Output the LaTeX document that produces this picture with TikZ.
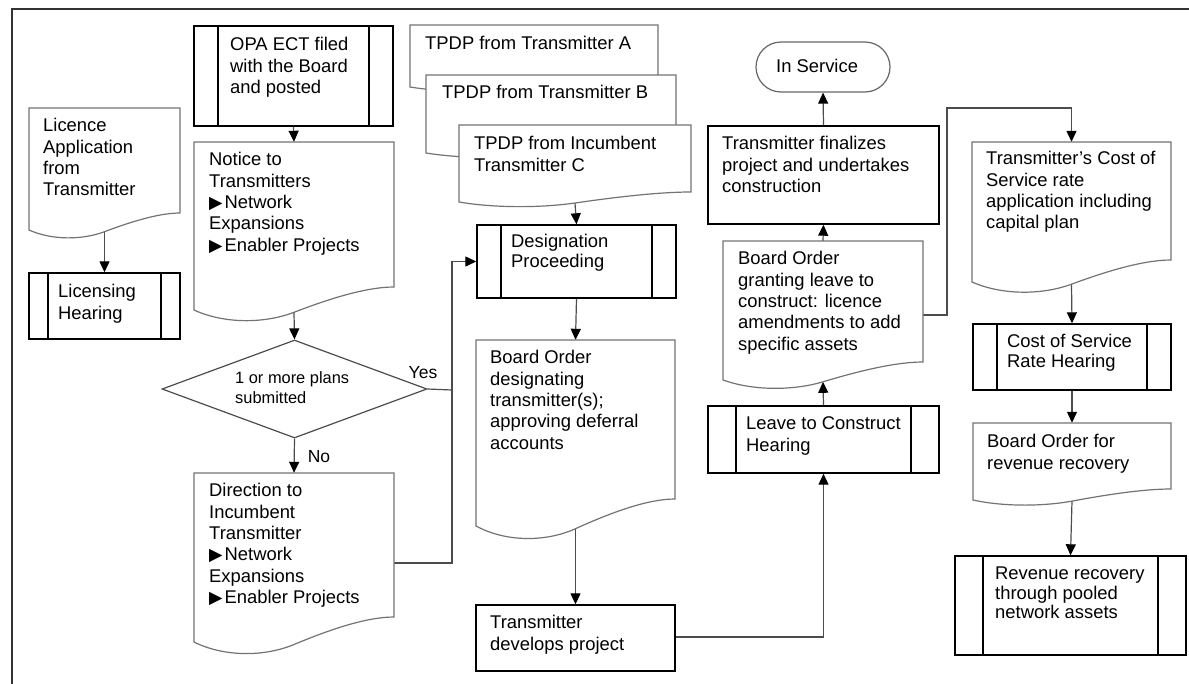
\documentclass[tikz,border=0pt]{standalone}
\usepackage{fontspec}
\setmainfont{Liberation Sans}
\newfontfamily\djv{DejaVu Sans}
\newcommand\tri{{\djv\fontsize{17.5}{17.5}\selectfont ▶}\hspace{2pt}}
\usetikzlibrary{arrows.meta,shapes.geometric}
\pgfdeclarelayer{background}
\pgfsetlayers{background,main}
\tikzset{
  txt/.style={font=\fontsize{18.4}{21.4}\selectfont, anchor=north west, inner sep=0, align=left},
  tight/.style={font=\fontsize{18.4}{19.6}\selectfont},
  lbl/.style={font=\fontsize{17.5}{20}\selectfont, inner sep=0},
  pbox/.style={draw=black, line width=1.4pt, fill=white, inner sep=0,
    path picture={\draw[black, line width=1.4pt] ([xshift=#1]path picture bounding box.north west) -- ([xshift=#1]path picture bounding box.south west);
                  \draw[black, line width=1.4pt] ([xshift=-#1]path picture bounding box.north east) -- ([xshift=-#1]path picture bounding box.south east);}},
  pbox/.default=25,
  rbox/.style={draw=black, line width=1.4pt, fill=white, inner sep=0},
  docline/.style={draw=black!55, line width=1.2pt, fill=white},
  conn/.style={draw=black!70, line width=1.2pt, -{Triangle[length=11pt,width=10pt,color=black]}},
  line/.style={draw=black!70, line width=1.2pt},
}
% document shape: #1 name, #2 x0, #3 top, #4 x1, #5 yR (right bottom), #6 yL (left bottom)
\newcommand\docshape[6]{%
  \pgfmathsetmacro\dw{#4-#2}%
  \pgfmathsetmacro\da{#6-#5}%
  \draw[docline] (#2,#3) -- (#4,#3) -- (#4,#5)
     .. controls ({#2+0.85*\dw},#5) and ({#2+0.65*\dw},{#6-0.4*\da}) .. ({#2+0.5*\dw},{#6+0.1*\da})
     .. controls ({#2+0.35*\dw},{#6+0.6*\da}) and ({#2+0.15*\dw},{#6+0.6*\da}) .. (#2,#6) -- cycle;
  \node[inner sep=0, minimum width=\dw, minimum height={#6-#3}] (#1) at ({(#2+#4)/2},{(#3+#6)/2}) {};
  \coordinate (#1-bc) at ({#2+0.5*\dw},{#6+0.1*\da});
}
\begin{document}
\begin{tikzpicture}[x=1pt,y=-1pt]
\useasboundingbox (0,0) rectangle (1189,683);
% frame
\draw[black!80, line width=2.2pt] (12,700) -- (12,9) -- (1200,9);

% left column
\docshape{lic}{29}{108}{180}{213}{230}
\node[txt] (lic-t) at (43,116.5) {\strut Licence\\Application\\from\\Transmitter};
\node[pbox=19, minimum width=151, minimum height=66] (lich) at (104.5,306) {};
\node[txt] (lich-t) at (58,282.5) {\strut Licensing\\Hearing};

% OPA column
\node[pbox=24, minimum width=199, minimum height=100] (opa) at (293.5,76) {};
\node[txt] (opa-t) at (230,35.5) {\strut OPA ECT filed\\with the Board\\and posted};
\docshape{notice}{194}{142}{394}{287}{310}
\node[txt] (notice-t) at (209,150.5) {\strut Notice to\\Transmitters\\\tri Network\\Expansions\\\tri Enabler Projects};
\node[diamond, draw=black!70, line width=1.2pt, fill=white, inner sep=0, minimum width=265, minimum height=98] (dia) at (294.5,389) {};
\node[txt, font=\fontsize{16.4}{20}\selectfont] (dia-t) at (235,369) {\strut 1 or more plans\\submitted};
\node[lbl] (yes) at (423,373) {Yes};
\node[lbl] (no) at (319,457) {No};
\docshape{dir}{194}{473}{394}{617}{642}
\node[txt] (dir-t) at (209,481.5) {\strut Direction to\\Incumbent\\Transmitter\\\tri Network\\Expansions\\\tri Enabler Projects};
\coordinate (jn) at (452,390);

% TPDP column
\docshape{tA}{410}{25}{658}{77}{87}
\node[txt] (tA-t) at (425,34.5) {\strut TPDP from Transmitter A};
\docshape{tB}{426}{75}{676}{143}{153}
\node[txt] (tB-t) at (442,83.5) {\strut TPDP from Transmitter B};
\docshape{tC}{459}{125}{691}{192}{202}
\node[txt] (tC-t) at (474,134.5) {\strut TPDP from Incumbent\\Transmitter C};
\node[pbox=24, minimum width=199, minimum height=73] (desig) at (576.5,261.5) {};
\node[txt, tight] (desig-t) at (511,233.5) {\strut Designation\\Proceeding};
\docshape{bodes}{476}{340}{675}{499}{526}
\node[txt] (bodes-t) at (490,348.5) {\strut Board Order\\designating\\transmitter(s);\\approving deferral\\accounts};
\node[rbox, minimum width=199, minimum height=66] (dev) at (575.5,638) {};
\node[txt] (dev-t) at (490,613.5) {\strut Transmitter\\develops project};

% construction column
\node[draw=black!60, line width=1.2pt, fill=white, rounded corners=25, minimum width=134, minimum height=50, inner sep=0] (insrv) at (823,67) {};
\node[lbl, font=\fontsize{18.4}{21.4}\selectfont, anchor=west] (insrv-t) at (776,66) {In Service};
\node[rbox, minimum width=231, minimum height=98] (final) at (823.5,175) {};
\node[txt] (final-t) at (722,134.5) {\strut Transmitter finalizes\\project and undertakes\\construction};
\docshape{bogrant}{723}{241}{923}{362}{380}
\node[txt] (bogrant-t) at (738,249.5) {\strut Board Order\\granting leave to\\construct: licence\\amendments to add\\specific assets};
\node[pbox=28, minimum width=231, minimum height=67] (leave) at (823.5,439.5) {};
\node[txt] (leave-t) at (746,414.5) {\strut Leave to Construct\\Hearing};
\coordinate (c1) at (947,108);

% rates column
\docshape{cost}{972}{142}{1171}{260}{282}
\node[txt] (cost-t) at (986,149.5) {\strut Transmitter's Cost of\\Service rate\\application including\\capital plan};
\node[pbox=24, minimum width=198, minimum height=66] (cosh) at (1072,357) {};
\node[txt, tight] (cosh-t) at (1007,333.5) {\strut Cost of Service\\Rate Hearing};
\docshape{borev}{973}{423}{1171}{489}{500}
\node[txt] (borev-t) at (987,432.5) {\strut Board Order for\\revenue recovery};
\node[pbox=28, minimum width=231, minimum height=99] (rev) at (1070.5,605.5) {};
\node[txt, tight] (rev-t) at (995,565.5) {\strut Revenue recovery\\through pooled\\network assets};

% connectors
\begin{pgfonlayer}{background}
\draw[conn] (lic-bc) -- (lich.north);
\draw[conn] (opa.south) -- (notice.north);
\draw[conn] (notice-bc) -- (dia.north);
\draw[conn] (dia.south) -- (dir.north);
\draw[line] (dia.east) -- (jn);
\draw[conn] ([yshift=-5.5]dir.east) -| (jn) |- (desig.west);
\draw[conn] (tC-bc) -- (desig.north);
\draw[conn] (desig.south) -- (bodes.north);
\draw[conn] (bodes-bc) -- (dev.north);
\draw[conn] ([yshift=1]dev.east) -| (leave.south);
\draw[conn] (leave.north) -- (bogrant-bc);
\draw[conn] (bogrant.north) -- (final.south);
\draw[conn] (final.north) -- (insrv.south);
\draw[conn] ([yshift=-4.5]bogrant.east) -| (c1) -| (cost.north);
\draw[conn] (cost-bc) -- (cosh.north);
\draw[conn] (cosh.south) -- (borev.north);
\draw[conn] (borev-bc) -- (rev.north);
\end{pgfonlayer}
\end{tikzpicture}
\end{document}
